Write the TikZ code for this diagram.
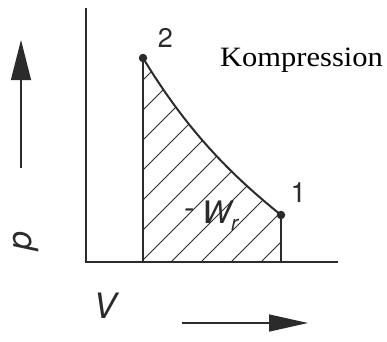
\documentclass[tikz,border=0pt]{standalone}
\usepackage{fontspec}
\setmainfont{Liberation Serif}
\newfontfamily\labelfont{TeX Gyre Heros}
\usepackage{xcolor}
\usepackage{tikz}
\usetikzlibrary{arrows.meta,calc}

\definecolor{ink}{HTML}{2B2B2B}

\begin{document}
\begin{tikzpicture}[
    x=1pt, y=1pt,
    axis/.style={draw=ink, line width=1.8pt},
    curve/.style={draw=ink, line width=2pt},
    bound/.style={draw=ink, line width=1.1pt},
    hatch/.style={draw=ink, line width=0.9pt},
    statept/.style={fill=ink, circle, inner sep=0pt, minimum size=8.5pt},
    dirarrow/.style={draw=ink, line width=1.4pt},
    lbl/.style={text=ink, inner sep=0pt, font=\labelfont\fontsize{27}{27}\selectfont}
]
\useasboundingbox (0,0) rectangle (387,341);

% ================================================================
%  axes
% ================================================================
\coordinate (o) at (86,79);
\coordinate (ytop) at (86,333);
\coordinate (xend) at (338,79);
\draw[axis] (ytop) -- (o) -- (xend);

% direction arrows with p and V
\coordinate (pstart) at (21,173);
\coordinate (pend) at (21,301);
\draw[dirarrow, -{Triangle[length=40pt, width=20pt]}] (pstart) -- (pend);

\coordinate (vstart) at (182,18);
\coordinate (vend) at (308,18);
\draw[dirarrow, -{Triangle[length=39pt, width=17pt]}] (vstart) -- (vend);

\node[lbl, font=\labelfont\itshape\fontsize{34}{34}\selectfont, rotate=90] (plbl) at (25.5,100) {p};
\node[lbl, font=\labelfont\itshape\fontsize{35}{35}\selectfont] (vlbl) at (105,35) {V};

% ================================================================
%  state points and compression curve 2 -- 1
% ================================================================
\node[statept] (s2) at (143,283) {};
\node[statept] (s1) at (281,126) {};
\coordinate (b2) at (143,79);
\coordinate (b1) at (281,79);

% hatched area under the curve
\begin{scope}
    \clip (b2) -- (s2.center) .. controls (189,207) and (235,163) .. (s1.center) -- (b1) -- cycle;
    \foreach \k in {0,...,11} {
        \pgfmathsetmacro{\yl}{261 - 30*\k}
        \draw[hatch] (143,\yl) -- ++(220,220);
    }
\end{scope}

\draw[bound] (s2.center) -- (b2);
\draw[bound] (s1.center) -- (b1);
\draw[curve] (s2.center) .. controls (189,207) and (235,163) .. (s1.center);

\node[lbl] (lbl2) at (165.5,303.5) {2};
\node[lbl, font=\labelfont\fontsize{28}{28}\selectfont] (lbl1) at (298.5,148) {1};

\node[lbl, anchor=base, font=\labelfont\itshape\fontsize{31}{31}\selectfont] (work) at (211,118)
    {\raisebox{0.15em}{-}\hspace{0.25em}W\raisebox{-0.23em}{\fontsize{21}{21}\selectfont r}};

% ================================================================
%  title
% ================================================================
\node[inner sep=0pt, anchor=base, font=\fontsize{28}{28}\selectfont] (title) at (301.5,275)
    {\scalebox{1.09}[1]{Kompression}};
\end{tikzpicture}
\end{document}
